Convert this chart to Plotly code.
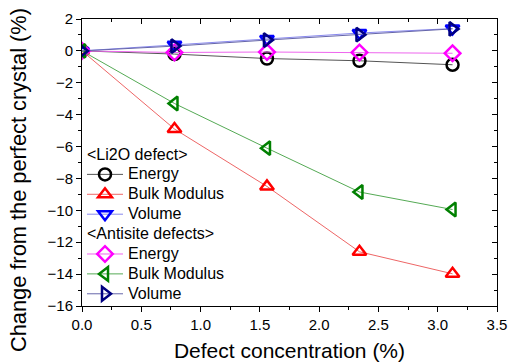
import plotly.graph_objects as go

conc = [0.0, 0.78, 1.56, 2.34, 3.125]

li2o_energy = [0.0, -0.2, -0.48, -0.62, -0.87]
li2o_bulk = [0.0, -4.9, -8.5, -12.6, -13.98]
li2o_volume = [0.0, 0.38, 0.75, 1.12, 1.40]

anti_energy = [0.0, -0.1, -0.07, -0.1, -0.15]
anti_bulk = [0.0, -3.3, -6.1, -8.85, -9.95]
anti_volume = [0.0, 0.3, 0.68, 1.02, 1.38]

series = [
    ("li2o", "&lt;Li2O defect&gt;", "Energy", li2o_energy, "circle-open", "black", "#555555"),
    ("li2o", "&lt;Li2O defect&gt;", "Bulk Modulus", li2o_bulk, "triangle-up-open", "#ff0000", "#ee6666"),
    ("li2o", "&lt;Li2O defect&gt;", "Volume", li2o_volume, "triangle-down-open", "#0000ff", "#8888ee"),
    ("anti", "&lt;Antisite defects&gt;", "Energy", anti_energy, "diamond-open", "#ff00ff", "#ee66ee"),
    ("anti", "&lt;Antisite defects&gt;", "Bulk Modulus", anti_bulk, "triangle-left-open", "#008000", "#55aa55"),
    ("anti", "&lt;Antisite defects&gt;", "Volume", anti_volume, "triangle-right-open", "#000080", "#6666aa"),
]

font = "Liberation Sans, Arial, sans-serif"
LEG = 13


def big(t, px=16):
    return f'<span style="font-size:{px}px">{t}</span>'


fig = go.Figure()
for grp, gtitle, name, ys, sym, mcol, lcol in series:
    fig.add_trace(go.Scatter(
        x=conc, y=ys, name=big(name), mode="lines+markers",
        legendgroup=grp,
        legendgrouptitle=dict(text=big(gtitle), font=dict(size=LEG, color="black", family=font)),
        line=dict(color=lcol, width=1),
        marker=dict(symbol=sym, size=12, color=mcol, line=dict(width=2.5, color=mcol)),
    ))

fig.update_layout(
    width=510, height=362,
    margin=dict(l=82, r=13, t=19, b=56),
    paper_bgcolor="white", plot_bgcolor="white",
    font=dict(family=font, size=15, color="black"),
    showlegend=True,
    legend=dict(x=0.0, y=0.58, xanchor="left", yanchor="top",
                bgcolor="rgba(0,0,0,0)", tracegroupgap=0,
                font=dict(size=LEG, family=font), itemwidth=36),
    xaxis=dict(range=[0, 3.5], dtick=0.5, tickformat=".1f", automargin=False,
               showline=True, linecolor="black", linewidth=1, mirror=True,
               ticks="outside", ticklen=5, tickcolor="black",
               minor=dict(ticks="outside", ticklen=3, dtick=0.25, tickcolor="black"),
               showgrid=False, zeroline=False,
               title=dict(text="Defect concentration (%)", font=dict(size=21)),
               tickfont=dict(size=15)),
    yaxis=dict(range=[-16, 2], dtick=2, automargin=False,
               showline=True, linecolor="black", linewidth=1, mirror=True,
               ticks="outside", ticklen=5, tickcolor="black",
               minor=dict(ticks="outside", ticklen=3, dtick=1, tickcolor="black"),
               showgrid=False, zeroline=False,
               tickfont=dict(size=15)),
    xaxis2=dict(range=[0, 3.5], dtick=0.5, overlaying="x", side="top", anchor="y",
                automargin=False,
                ticks="inside", ticklen=5, tickcolor="black", showticklabels=False,
                minor=dict(ticks="inside", ticklen=3, dtick=0.25, tickcolor="black"),
                showgrid=False, zeroline=False, showline=False),
    yaxis2=dict(range=[-16, 2], dtick=2, overlaying="y", side="right", anchor="x",
                automargin=False,
                ticks="inside", ticklen=5, tickcolor="black", showticklabels=False,
                minor=dict(ticks="inside", ticklen=3, dtick=1, tickcolor="black"),
                showgrid=False, zeroline=False, showline=False),
    annotations=[dict(
        text="Change from the perfect crystal (%)", textangle=-90,
        xref="paper", yref="paper", x=-0.154, y=0.439,
        xanchor="center", yanchor="middle", showarrow=False,
        font=dict(size=21.8, family=font, color="black"),
    )],
)
fig.add_trace(go.Scatter(x=[None], y=[None], xaxis="x2", yaxis="y2", showlegend=False, hoverinfo="skip"))

fig.write_html("out.html")
